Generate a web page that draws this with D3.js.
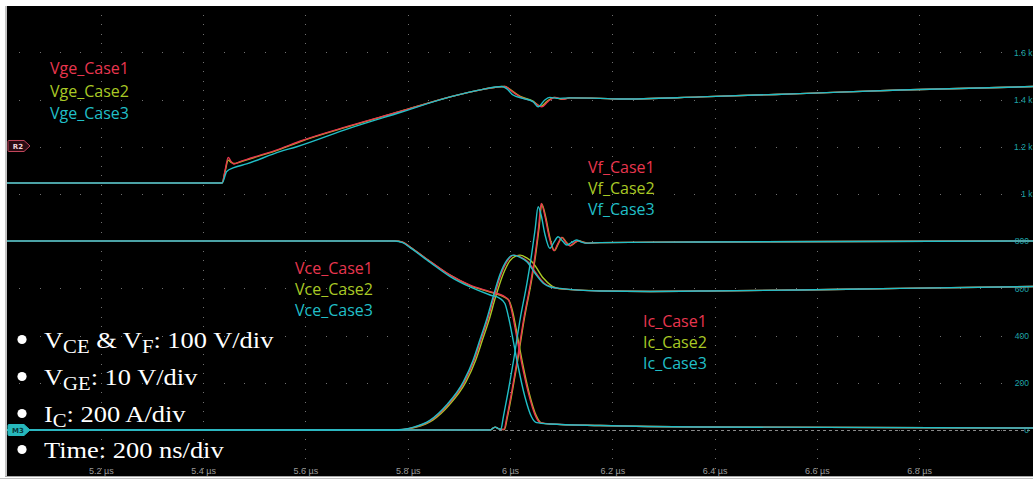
<!DOCTYPE html>
<html><head><meta charset="utf-8">
<script src="https://cdn.jsdelivr.net/npm/d3@7"></script>
<style>
html,body{margin:0;padding:0;background:#fff;}
svg{display:block;}
</style></head>
<body><svg id="c" width="1033" height="479"></svg>
<script>
// ---------------- DATA (time in µs, values in physical units) ----------------
const timeTicks = [5.2, 5.4, 5.6, 5.8, 6.0, 6.2, 6.4, 6.6, 6.8];
const rightTicks = [0, 200, 400, 600, 800, 1000, 1200, 1400, 1600];
const vgeLabels = ["Vge_Case1", "Vge_Case2", "Vge_Case3"];
const vfLabels = ["Vf_Case1", "Vf_Case2", "Vf_Case3"];
const vceLabels = ["Vce_Case1", "Vce_Case2", "Vce_Case3"];
const icLabels = ["Ic_Case1", "Ic_Case2", "Ic_Case3"];

// Gate-emitter voltage (V)
const vge1 = [[5.016,-7.84],[5.437,-7.84],[5.443,-5.1],[5.449,-2.4],[5.454,-3.2],[5.460,-3.8],[5.472,-3.3],[5.492,-2.6],[5.550,-0.6],[5.589,1.0],[5.687,4.3],[5.785,7.3],[5.883,10.4],[5.947,12.0],[5.980,12.55],[5.990,12.6],[5.996,12.3],[6.000,11.9],[6.020,10.4],[6.045,9.4],[6.062,8.3],[6.074,9.4],[6.088,10.3],[6.104,9.9],[6.117,10.2],[6.176,10.1],[6.215,9.95],[6.372,10.4],[6.567,11.1],[6.763,11.85],[7.023,12.6]];
const vge2 = [[5.016,-7.84],[5.437,-7.84],[5.443,-5.3],[5.449,-3.0],[5.454,-3.4],[5.460,-3.7],[5.472,-3.4],[5.492,-2.7],[5.550,-0.7],[5.589,0.9],[5.687,4.2],[5.785,7.3],[5.883,10.4],[5.947,12.0],[5.980,12.55],[5.990,12.6],[5.996,12.3],[6.000,12.0],[6.020,10.5],[6.045,9.5],[6.060,8.4],[6.072,9.4],[6.086,10.3],[6.102,9.9],[6.117,10.2],[6.176,10.1],[6.215,9.95],[6.372,10.4],[6.567,11.1],[6.763,11.85],[7.023,12.6]];
const vge3 = [[5.016,-7.84],[5.437,-7.84],[5.446,-5.4],[5.460,-4.6],[5.485,-3.8],[5.550,-1.2],[5.583,-0.15],[5.687,3.8],[5.785,7.1],[5.883,10.4],[5.947,12.0],[5.984,12.6],[5.994,12.1],[6.006,10.8],[6.025,10.1],[6.045,9.4],[6.055,8.3],[6.068,9.75],[6.078,10.3],[6.092,10.1],[6.117,10.2],[6.176,10.1],[6.215,9.95],[6.372,10.4],[6.567,11.1],[6.763,11.85],[7.023,12.6]];

// Collector-emitter voltage (V)
const vce1 = [[5.016,400.5],[5.775,400.5],[5.790,398],[5.804,388],[5.844,357],[5.883,328],[5.922,307],[5.961,293],[5.990,282],[5.997,276],[6.003,254],[6.013,198],[6.023,141],[6.036,78],[6.049,32],[6.059,15.5],[6.078,12.7],[6.176,9.5],[6.372,6.4],[7.023,4.2]];
const vce2 = [[5.016,400.5],[5.775,400.5],[5.790,398],[5.804,388],[5.844,357],[5.883,328],[5.922,306],[5.961,292],[5.990,281],[5.998,274],[6.005,252],[6.015,196],[6.025,139],[6.038,76],[6.051,31],[6.061,15],[6.080,12.5],[6.176,9.5],[6.372,6.4],[7.023,4.2]];
const vce3 = [[5.016,400.5],[5.775,400.5],[5.790,397],[5.804,387],[5.844,355],[5.883,325],[5.922,303],[5.961,286],[5.980,279],[5.990,268],[5.997,240],[6.006,191],[6.016,134],[6.029,71],[6.042,28],[6.052,15.5],[6.078,12.7],[6.176,9.5],[6.372,6.4],[7.023,4.2]];

// Collector current (A)
const ic1 = [[5.016,0],[5.777,0],[5.792,2],[5.812,11],[5.846,42],[5.878,106],[5.911,205],[5.930,297],[5.943,381],[5.956,466],[5.969,565],[5.982,657],[5.996,720],[6.008,741],[6.021,733],[6.035,713],[6.051,664],[6.067,622],[6.080,607],[6.098,599],[6.176,589],[6.274,587],[6.372,589],[6.567,593],[6.763,600],[7.023,608]];
const ic2 = [[5.016,0],[5.780,0],[5.795,2],[5.815,11],[5.849,42],[5.881,106],[5.914,205],[5.933,297],[5.946,381],[5.959,466],[5.972,565],[5.986,657],[6.000,718],[6.012,738],[6.020,741],[6.032,730],[6.045,708],[6.065,644],[6.082,610],[6.098,598],[6.176,590],[6.274,587],[6.372,589],[6.567,593],[6.763,600],[7.023,608]];
const ic3 = [[5.016,0],[5.775,0],[5.790,2],[5.810,11],[5.844,42],[5.876,106],[5.909,205],[5.928,297],[5.941,381],[5.954,466],[5.967,565],[5.980,657],[5.994,720],[6.006,741],[6.019,733],[6.033,713],[6.049,664],[6.065,622],[6.078,607],[6.098,600],[6.176,589],[6.274,587],[6.372,589],[6.567,593],[6.763,600],[7.023,608]];

// Diode forward voltage (V)
const vf1 = [[5.016,0],[5.961,0],[5.967,4],[5.971,6],[5.977,3],[5.988,1],[5.994,28],[6.004,85],[6.013,141],[6.027,236],[6.040,310],[6.049,370],[6.056,430],[6.061,480],[6.068,455],[6.076,412],[6.086,380],[6.094,396],[6.101,408],[6.109,398],[6.117,390.5],[6.125,396],[6.133,401],[6.143,398],[6.150,396],[6.176,397],[6.372,398.3],[7.023,400.4]];
const vf2 = [[5.016,0],[5.961,0],[5.967,4],[5.971,6],[5.977,3],[5.989,1],[5.995,28],[6.005,85],[6.014,141],[6.028,236],[6.041,310],[6.050,370],[6.057,430],[6.062,479],[6.069,455],[6.077,412],[6.087,380],[6.095,396],[6.102,408],[6.110,398],[6.118,390.5],[6.126,396],[6.134,401],[6.144,398],[6.151,396],[6.176,397],[6.372,398.3],[7.023,400.4]];
const vf3 = [[5.016,0],[5.961,0],[5.967,4],[5.971,6],[5.977,3],[5.982,1],[5.987,28],[5.997,85],[6.006,141],[6.020,236],[6.033,310],[6.042,370],[6.049,424],[6.055,473],[6.061,455],[6.068,416],[6.078,385],[6.086,398],[6.094,409.5],[6.103,400],[6.111,392],[6.120,397],[6.130,402.5],[6.140,398],[6.147,396],[6.176,397],[6.372,398.3],[7.023,400.4]];

const bulletLines = [
  [["V",0],["CE",1],[" & V",0],["F",1],[": 100 V/div",0]],
  [["V",0],["GE",1],[": 10 V/div",0]],
  [["I",0],["C",1],[": 200 A/div",0]],
  [["Time: 200 ns/div",0]]
];

// ---------------- RENDER ----------------
const W = 1033, H = 479;
const P = {x0: 7, y0: 6, x1: 1033, y1: 476};
const colors = ["#e8364f", "#a9c925", "#21bfc7"];

const svg = d3.select("#c");
svg.append("rect").attr("width", W).attr("height", H).attr("fill", "#fff");
svg.append("rect").attr("x", 5).attr("y", P.y0).attr("width", 2).attr("height", P.y1 - P.y0).attr("fill", "#c4c4c4");
svg.append("rect").attr("x", P.x0).attr("y", P.y0).attr("width", P.x1 - P.x0).attr("height", P.y1 - P.y0).attr("fill", "#000");
svg.append("rect").attr("x", 5).attr("y", P.y1).attr("width", W).attr("height", 1).attr("fill", "#a8a8a8");
svg.append("rect").attr("x", 0).attr("y", 478).attr("width", W).attr("height", 1).attr("fill", "#c0c0c0");

const x = d3.scaleLinear().domain([5.0164, 7.0227]).range([P.x0, P.x1]);
const yDiv = d3.scaleLinear().domain([-1, 9]).range([477.2, 5.2]);
const R2_OFFSET_DIV = 6.017;
const yIc = d3.scaleLinear().domain([0, 200]).range([yDiv(0), yDiv(1)]);      // 200 A/div
const yV  = d3.scaleLinear().domain([0, 100]).range([yDiv(0), yDiv(1)]);      // 100 V/div
const yGe = d3.scaleLinear().domain([0, 10]).range([yDiv(R2_OFFSET_DIV), yDiv(R2_OFFSET_DIV + 1)]); // 10 V/div

svg.append("clipPath").attr("id", "clip").append("rect")
  .attr("x", P.x0).attr("y", P.y0).attr("width", P.x1 - P.x0).attr("height", P.y1 - P.y0);

// graticule dots
const grid = svg.append("g").attr("fill", "#707070").attr("clip-path", "url(#clip)");
timeTicks.forEach(t => {
  for (let d = -1; d <= 9.001; d += 0.2) {
    grid.append("rect").attr("x", Math.round(x(t))).attr("y", Math.round(yDiv(d))).attr("width", 1).attr("height", 1);
  }
});
for (let d = 0; d <= 8; d++) {
  for (let k = -5; k <= 46; k++) {
    const t = 5.2 + k * 0.04;
    grid.append("rect").attr("x", Math.round(x(t))).attr("y", Math.round(yDiv(d))).attr("width", 1).attr("height", 1);
  }
}

// zero dashed line
svg.append("line").attr("x1", P.x0).attr("x2", P.x1).attr("y1", yIc(0) + 0.5).attr("y2", yIc(0) + 0.5)
  .attr("stroke", "#8a8a8a").attr("stroke-width", 1).attr("stroke-dasharray", "3,3");

// axes
const axR = svg.append("g").attr("transform", "translate(1029,0)")
  .call(d3.axisLeft(yIc).tickValues(rightTicks).tickSize(0).tickPadding(0)
    .tickFormat(v => v >= 1000 ? (v / 1000) + " k" : String(v)));
axR.select(".domain").remove();
axR.selectAll("text").attr("fill", "#1ea3a8").attr("font-family", "Liberation Sans, Arial, sans-serif")
  .attr("font-size", 8.5).attr("dx", d => d >= 1000 ? 3.5 : 0);

const axB = svg.append("g").attr("transform", "translate(0,473.5)")
  .call(d3.axisBottom(x).tickValues(timeTicks).tickSize(0)
    .tickFormat(t => (+t.toFixed(1)) + " µs"));
axB.select(".domain").remove();
axB.selectAll("text").attr("y", 0).attr("dy", 0).attr("fill", "#9a9a9a")
  .attr("font-family", "Liberation Sans, Arial, sans-serif").attr("font-size", 9);

// traces
const traces = svg.append("g").attr("clip-path", "url(#clip)").attr("fill", "none").attr("stroke-width", 1.4);
const mk = ys => d3.line().x(d => x(d[0])).y(d => ys(d[1])).curve(d3.curveMonotoneX);
const sets = [
  {data: [vge1, vge2, vge3], ys: yGe},
  {data: [vce1, vce2, vce3], ys: yV},
  {data: [ic1, ic2, ic3], ys: yIc},
  {data: [vf1, vf2, vf3], ys: yV}
];
[1, 0, 2].forEach(ci => {
  sets.forEach(s => {
    traces.append("path").attr("d", mk(s.ys)(s.data[ci])).attr("stroke", colors[ci]);
  });
});

// reference markers
function marker(yc, label, fill, stroke, tc) {
  const g = svg.append("g");
  g.append("path").attr("d", `M9,${yc-5.5} H24 L30,${yc} L24,${yc+5.5} H9 Q8,${yc+5.5} 8,${yc+4.5} V${yc-4.5} Q8,${yc-5.5} 9,${yc-5.5} Z`)
    .attr("fill", fill).attr("stroke", stroke).attr("stroke-width", 1);
  g.append("text").attr("x", 18).attr("y", yc + 2.6).attr("text-anchor", "middle")
    .attr("font-family", "DejaVu Sans, sans-serif").attr("font-weight", "bold").attr("font-size", 7)
    .attr("fill", tc).text(label);
}
marker(yGe(0), "R2", "#2a0b13", "#c4475c", "#f2d6dc");
marker(yIc(0), "M3", "#27b8bc", "#27b8bc", "#06393b");

// legend labels
function labels(arr, lx, ly, dy) {
  arr.forEach((s, i) => {
    svg.append("text").attr("x", lx).attr("y", ly + i * dy)
      .attr("font-family", "Open Sans, sans-serif").attr("font-size", 16)
      .attr("fill", colors[i]).text(s);
  });
}
labels(vgeLabels, 50, 74, 22.5);
labels(vfLabels, 588, 173, 21);
labels(vceLabels, 295, 274, 21);
labels(icLabels, 643, 327, 21);

// bullet text
const bBase = [348, 385, 422, 458];
bulletLines.forEach((parts, i) => {
  svg.append("circle").attr("cx", 22).attr("cy", bBase[i] - 8.5).attr("r", 4.6).attr("fill", "#fff");
  const t = svg.append("text").attr("x", 0).attr("y", bBase[i])
    .attr("transform", "translate(44,0) scale(1.15,1)")
    .attr("font-family", "Liberation Serif, Times New Roman, serif").attr("font-size", 23).attr("fill", "#fff");
  let sub = 0;
  parts.forEach(([s, isSub]) => {
    const dy = isSub && !sub ? 5 : (!isSub && sub ? -5 : 0);
    t.append("tspan").attr("dy", dy).attr("font-size", isSub ? 18 : 23).text(s);
    sub = isSub;
  });
});
</script>
</body></html>
